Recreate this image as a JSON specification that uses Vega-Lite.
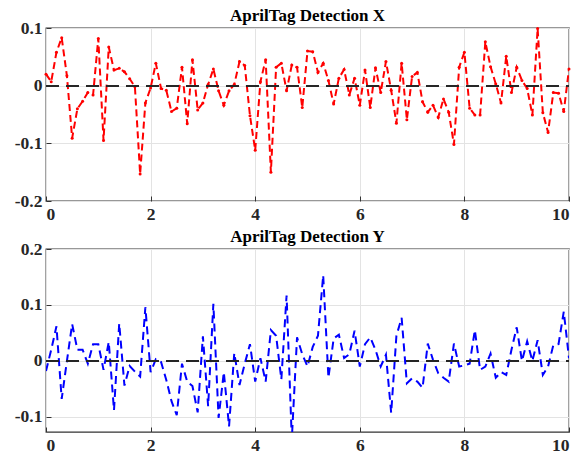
{
  "$schema": "https://vega.github.io/schema/vega-lite/v6.json",
  "padding": {"left": 13, "top": 6, "right": 8, "bottom": 2},
  "spacing": 3,
  "background": "white",
  "config": {
    "font": "Liberation Serif",
    "view": {"stroke": "#333333", "strokeWidth": 1.3},
    "axis": {
      "labelFont": "Liberation Serif",
      "labelFontSize": 17.5,
      "labelFontWeight": "bold",
      "labelColor": "#262626",
      "gridColor": "#e3e3e3",
      "gridWidth": 1,
      "domain": false,
      "tickColor": "#333333",
      "tickSize": -5
    },
    "axisX": {"labelPadding": 9, "labelFont": "Liberation Serif"},
    "axisY": {"labelPadding": 9, "labelFont": "Liberation Serif"},
    "title": {"font": "Liberation Serif", "fontSize": 17, "fontWeight": "bold", "color": "#000000"}
  },
  "datasets": {
    "xdata": [
      {"t": 0.0, "v": 0.02}, {"t": 0.1, "v": 0.007}, {"t": 0.2, "v": 0.058}, {"t": 0.3, "v": 0.083}, {"t": 0.4, "v": 0.017},
      {"t": 0.5, "v": -0.091}, {"t": 0.6, "v": -0.04}, {"t": 0.7, "v": -0.027}, {"t": 0.8, "v": -0.012}, {"t": 0.9, "v": -0.016},
      {"t": 1.0, "v": 0.082}, {"t": 1.1, "v": -0.095}, {"t": 1.2, "v": 0.067}, {"t": 1.3, "v": 0.027}, {"t": 1.4, "v": 0.03},
      {"t": 1.5, "v": 0.024}, {"t": 1.6, "v": 0.012}, {"t": 1.7, "v": -0.002}, {"t": 1.8, "v": -0.153}, {"t": 1.9, "v": -0.03},
      {"t": 2.0, "v": -0.004}, {"t": 2.1, "v": 0.039}, {"t": 2.2, "v": -0.005}, {"t": 2.3, "v": -0.008}, {"t": 2.4, "v": -0.045},
      {"t": 2.5, "v": -0.039}, {"t": 2.6, "v": 0.032}, {"t": 2.7, "v": -0.066}, {"t": 2.8, "v": 0.045}, {"t": 2.9, "v": -0.042},
      {"t": 3.0, "v": -0.03}, {"t": 3.1, "v": 0.002}, {"t": 3.2, "v": 0.029}, {"t": 3.3, "v": -0.009}, {"t": 3.4, "v": -0.034},
      {"t": 3.5, "v": -0.009}, {"t": 3.6, "v": 0.002}, {"t": 3.7, "v": 0.042}, {"t": 3.8, "v": 0.035}, {"t": 3.9, "v": -0.052},
      {"t": 4.0, "v": -0.112}, {"t": 4.1, "v": 0.007}, {"t": 4.2, "v": 0.045}, {"t": 4.3, "v": -0.15}, {"t": 4.4, "v": 0.032},
      {"t": 4.5, "v": 0.039}, {"t": 4.6, "v": -0.009}, {"t": 4.7, "v": 0.036}, {"t": 4.8, "v": 0.032}, {"t": 4.9, "v": -0.038},
      {"t": 5.0, "v": 0.06}, {"t": 5.1, "v": 0.059}, {"t": 5.2, "v": 0.023}, {"t": 5.3, "v": 0.039}, {"t": 5.4, "v": 0.009},
      {"t": 5.5, "v": -0.032}, {"t": 5.6, "v": 0.013}, {"t": 5.7, "v": 0.028}, {"t": 5.8, "v": -0.016}, {"t": 5.9, "v": 0.013},
      {"t": 6.0, "v": -0.034}, {"t": 6.1, "v": 0.027}, {"t": 6.2, "v": -0.038}, {"t": 6.3, "v": 0.031}, {"t": 6.4, "v": -0.012},
      {"t": 6.5, "v": 0.042}, {"t": 6.6, "v": -0.008}, {"t": 6.7, "v": -0.065}, {"t": 6.8, "v": 0.039}, {"t": 6.9, "v": -0.059},
      {"t": 7.0, "v": 0.016}, {"t": 7.1, "v": 0.023}, {"t": 7.2, "v": -0.028}, {"t": 7.3, "v": -0.046}, {"t": 7.4, "v": -0.034},
      {"t": 7.5, "v": -0.055}, {"t": 7.6, "v": -0.023}, {"t": 7.7, "v": -0.046}, {"t": 7.8, "v": -0.102}, {"t": 7.9, "v": 0.032},
      {"t": 8.0, "v": 0.058}, {"t": 8.1, "v": -0.039}, {"t": 8.2, "v": -0.051}, {"t": 8.3, "v": -0.051}, {"t": 8.4, "v": 0.076},
      {"t": 8.5, "v": 0.033}, {"t": 8.6, "v": 0.003}, {"t": 8.7, "v": -0.03}, {"t": 8.8, "v": 0.051}, {"t": 8.9, "v": -0.012},
      {"t": 9.0, "v": 0.032}, {"t": 9.1, "v": 0.009}, {"t": 9.2, "v": -0.005}, {"t": 9.3, "v": -0.051}, {"t": 9.4, "v": 0.099},
      {"t": 9.5, "v": -0.047}, {"t": 9.6, "v": -0.081}, {"t": 9.7, "v": -0.012}, {"t": 9.8, "v": -0.013}, {"t": 9.9, "v": -0.045},
      {"t": 10.0, "v": 0.029}
    ],
    "ydata": [
      {"t": 0.0, "v": -0.018}, {"t": 0.1, "v": 0.02}, {"t": 0.2, "v": 0.062}, {"t": 0.3, "v": -0.068}, {"t": 0.4, "v": 0.0},
      {"t": 0.5, "v": 0.066}, {"t": 0.6, "v": 0.02}, {"t": 0.7, "v": 0.02}, {"t": 0.8, "v": -0.005}, {"t": 0.9, "v": 0.03},
      {"t": 1.0, "v": 0.03}, {"t": 1.1, "v": -0.016}, {"t": 1.2, "v": 0.034}, {"t": 1.3, "v": -0.088}, {"t": 1.4, "v": 0.067},
      {"t": 1.5, "v": -0.044}, {"t": 1.6, "v": -0.009}, {"t": 1.7, "v": -0.019}, {"t": 1.8, "v": -0.028}, {"t": 1.9, "v": 0.096},
      {"t": 2.0, "v": -0.02}, {"t": 2.1, "v": 0.003}, {"t": 2.2, "v": -0.002}, {"t": 2.3, "v": -0.034}, {"t": 2.4, "v": -0.072},
      {"t": 2.5, "v": -0.097}, {"t": 2.6, "v": -0.005}, {"t": 2.7, "v": -0.037}, {"t": 2.8, "v": -0.045}, {"t": 2.9, "v": -0.092},
      {"t": 3.0, "v": 0.044}, {"t": 3.1, "v": -0.081}, {"t": 3.2, "v": 0.102}, {"t": 3.3, "v": -0.102}, {"t": 3.4, "v": -0.02},
      {"t": 3.5, "v": -0.117}, {"t": 3.6, "v": 0.014}, {"t": 3.7, "v": -0.043}, {"t": 3.8, "v": -0.005}, {"t": 3.9, "v": 0.03},
      {"t": 4.0, "v": -0.037}, {"t": 4.1, "v": 0.005}, {"t": 4.2, "v": -0.037}, {"t": 4.3, "v": 0.055}, {"t": 4.4, "v": 0.045},
      {"t": 4.5, "v": -0.033}, {"t": 4.6, "v": 0.117}, {"t": 4.7, "v": -0.14}, {"t": 4.8, "v": 0.042}, {"t": 4.9, "v": 0.012},
      {"t": 5.0, "v": -0.01}, {"t": 5.1, "v": 0.025}, {"t": 5.2, "v": 0.045}, {"t": 5.3, "v": 0.153}, {"t": 5.4, "v": -0.03},
      {"t": 5.5, "v": 0.04}, {"t": 5.6, "v": 0.047}, {"t": 5.7, "v": 0.005}, {"t": 5.8, "v": 0.012}, {"t": 5.9, "v": 0.054},
      {"t": 6.0, "v": -0.01}, {"t": 6.1, "v": 0.03}, {"t": 6.2, "v": 0.042}, {"t": 6.3, "v": 0.02}, {"t": 6.4, "v": -0.01},
      {"t": 6.5, "v": 0.011}, {"t": 6.6, "v": -0.093}, {"t": 6.7, "v": 0.045}, {"t": 6.8, "v": 0.077}, {"t": 6.9, "v": -0.04},
      {"t": 7.0, "v": -0.031}, {"t": 7.1, "v": -0.037}, {"t": 7.2, "v": -0.048}, {"t": 7.3, "v": 0.031}, {"t": 7.4, "v": 0.002},
      {"t": 7.5, "v": -0.022}, {"t": 7.6, "v": -0.03}, {"t": 7.7, "v": -0.037}, {"t": 7.8, "v": 0.031}, {"t": 7.9, "v": -0.01},
      {"t": 8.0, "v": -0.008}, {"t": 8.1, "v": -0.005}, {"t": 8.2, "v": 0.055}, {"t": 8.3, "v": -0.016}, {"t": 8.4, "v": -0.01},
      {"t": 8.5, "v": 0.013}, {"t": 8.6, "v": -0.03}, {"t": 8.7, "v": -0.02}, {"t": 8.8, "v": -0.025}, {"t": 8.9, "v": 0.02},
      {"t": 9.0, "v": 0.06}, {"t": 9.1, "v": 0.0}, {"t": 9.2, "v": 0.035}, {"t": 9.3, "v": 0.0}, {"t": 9.4, "v": 0.037},
      {"t": 9.5, "v": -0.025}, {"t": 9.6, "v": -0.01}, {"t": 9.7, "v": 0.028}, {"t": 9.8, "v": 0.03}, {"t": 9.9, "v": 0.088},
      {"t": 10.0, "v": 0.005}
    ]
  },
  "vconcat": [
    {
      "title": {"text": "AprilTag Detection X", "offset": -6},
      "width": 523,
      "height": 173,
      "data": {"name": "xdata"},
      "encoding": {
        "x": {"field": "t", "type": "quantitative", "scale": {"domain": [0, 10], "nice": false},
              "axis": {"values": [0, 2, 4, 6, 8, 10], "title": null, "grid": true, "labelFont": "Liberation Serif"}},
        "y": {"field": "v", "type": "quantitative", "scale": {"domain": [-0.2, 0.1], "nice": false, "zero": false},
              "axis": {"values": [-0.2, -0.1, 0, 0.1], "title": null, "grid": true, "labelFont": "Liberation Serif",
                       "labelExpr": "datum.value === 0 ? '0' : (datum.value < 0 ? '-' : '') + format(abs(datum.value), '.1f')"}}
      },
      "layer": [
        {"mark": {"type": "line", "color": "#ff0000", "strokeDash": [7, 4], "strokeWidth": 2, "clip": true}},
        {"mark": {"type": "circle", "color": "#ff0000", "size": 9, "opacity": 1}},
        {
          "mark": {"type": "rule", "color": "#262626", "strokeDash": [13, 7], "strokeWidth": 1},
          "encoding": {"x": {"value": 0}, "x2": {"value": 523}, "y": {"datum": 0}}
        }
      ]
    },
    {
      "title": {"text": "AprilTag Detection Y", "offset": -6},
      "width": 523,
      "height": 183,
      "data": {"name": "ydata"},
      "encoding": {
        "x": {"field": "t", "type": "quantitative", "scale": {"domain": [0, 10], "nice": false},
              "axis": {"values": [0, 2, 4, 6, 8, 10], "title": null, "grid": true, "labelFont": "Liberation Serif"}},
        "y": {"field": "v", "type": "quantitative", "scale": {"domain": [-0.127, 0.2], "nice": false, "zero": false},
              "axis": {"values": [-0.1, 0, 0.1, 0.2], "title": null, "grid": true, "labelFont": "Liberation Serif",
                       "labelExpr": "datum.value === 0 ? '0' : (datum.value < 0 ? '-' : '') + format(abs(datum.value), '.1f')"}}
      },
      "layer": [
        {"mark": {"type": "line", "color": "#0000ff", "strokeDash": [8, 5], "strokeWidth": 2, "clip": true}},
        {
          "mark": {"type": "rule", "color": "#262626", "strokeDash": [13, 7], "strokeWidth": 1},
          "encoding": {"x": {"value": 0}, "x2": {"value": 523}, "y": {"datum": 0}}
        }
      ]
    }
  ]
}
